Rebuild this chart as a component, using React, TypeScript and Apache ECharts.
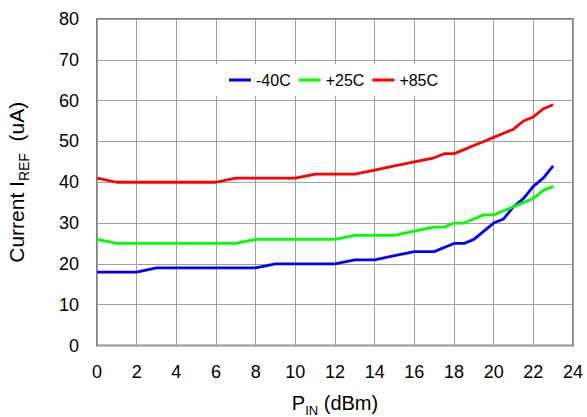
import React, { useEffect, useRef } from "react";
import * as echarts from "echarts";

const xTicksMax = 24;
const yTicksMax = 80;

const xCold = [0, 1, 2, 3, 4, 5, 6, 7, 8, 9, 10, 11, 12, 13, 14, 15, 16, 17, 18, 18.5, 19, 20, 20.5, 21, 21.5, 22, 22.5, 23];
const yCold = [18, 18, 18, 19, 19, 19, 19, 19, 19, 20, 20, 20, 20, 21, 21, 22, 23, 23, 25, 25, 26, 30, 31, 34, 36, 39, 41, 44];

const xRoom = [0, 1, 2, 3, 4, 5, 6, 7, 8, 9, 10, 11, 12, 13, 14, 15, 16, 17, 17.5, 18, 18.5, 19, 19.5, 20, 20.5, 21, 21.5, 22, 22.5, 23];
const yRoom = [26, 25, 25, 25, 25, 25, 25, 25, 26, 26, 26, 26, 26, 27, 27, 27, 28, 29, 29, 30, 30, 31, 32, 32, 33, 34, 35, 36, 38, 39];

const xHot = [0, 1, 2, 3, 4, 5, 6, 7, 8, 9, 10, 11, 12, 13, 14, 15, 16, 17, 17.5, 18, 18.5, 19, 19.5, 20, 20.5, 21, 21.5, 22, 22.5, 23];
const yHot = [41, 40, 40, 40, 40, 40, 40, 41, 41, 41, 41, 42, 42, 42, 43, 44, 45, 46, 47, 47, 48, 49, 50, 51, 52, 53, 55, 56, 58, 59];

const seriesNames = ["-40C", "+25C", "+85C"];
const seriesColors = ["#0000ff", "#00ff00", "#ff0000"];

const pair = (xs: number[], ys: number[]) => xs.map((x, i) => [x, ys[i]]);

export default function App() {
  const ref = useRef<HTMLDivElement>(null);
  useEffect(() => {
    if (!ref.current) return;
    const chart = echarts.init(ref.current, undefined, { renderer: "svg" });
    const font = "'Liberation Sans', Arial, sans-serif";
    const datasets = [pair(xCold, yCold), pair(xRoom, yRoom), pair(xHot, yHot)];
    chart.setOption({
      animation: false,
      textStyle: { fontFamily: font },
      grid: {
        left: 97, right: 14, top: 19, bottom: 71.5,
        outerBoundsMode: "none",
        containLabel: false,
        show: true, borderColor: "#808080", borderWidth: 2, backgroundColor: "#fff",
      },
      legend: {
        left: 213,
        top: 64,
        data: seriesNames,
        backgroundColor: "#fff",
        padding: [8, 15, 8, 16],
        itemWidth: 22,
        itemHeight: 3,
        itemGap: 8,
        icon: "rect",
        textStyle: { fontSize: 16, color: "#000", fontFamily: font },
      },
      xAxis: {
        type: "value",
        min: 0,
        max: xTicksMax,
        interval: 2,
        axisLine: { show: false },
        axisTick: { show: false },
        splitLine: { lineStyle: { color: "#a0a0a0", width: 1 } },
        axisLabel: { fontSize: 18, color: "#000", margin: 17, fontFamily: font },
        name: "{a|P}{b|IN}{a| (dBm)}",
        nameLocation: "middle",
        nameGap: 47,
        nameTextStyle: {
          rich: {
            a: { fontSize: 20, color: "#000", fontFamily: font, padding: [0, 0, 4, 0], verticalAlign: "bottom" },
            b: { fontSize: 13, color: "#000", fontFamily: font, verticalAlign: "bottom" },
          },
        },
      },
      yAxis: {
        type: "value",
        min: 0,
        max: yTicksMax,
        interval: 10,
        axisLine: { show: false },
        axisTick: { show: false },
        splitLine: { lineStyle: { color: "#a0a0a0", width: 1 } },
        axisLabel: { fontSize: 18, color: "#000", margin: 18, fontFamily: font },
        name: "{a|Current I}{b|REF}{a|  (uA)}",
        nameLocation: "middle",
        nameGap: 66,
        nameRotate: 90,
        nameTextStyle: {
          rich: {
            a: { fontSize: 21, color: "#000", fontFamily: font, padding: [0, 0, 4, 0], verticalAlign: "bottom" },
            b: { fontSize: 14, color: "#000", fontFamily: font, verticalAlign: "bottom" },
          },
        },
      },
      series: seriesNames.map((name, i) => ({
        name,
        type: "line",
        data: datasets[i],
        showSymbol: false,
        symbol: "none",
        lineStyle: { color: seriesColors[i], width: 2.8 },
        itemStyle: { color: seriesColors[i] },
        z: 3,
      })),
    });
    return () => chart.dispose();
  }, []);
  return <div ref={ref} style={{ width: 587, height: 417, position: "absolute", left: 0, top: 0 }} />;
}
